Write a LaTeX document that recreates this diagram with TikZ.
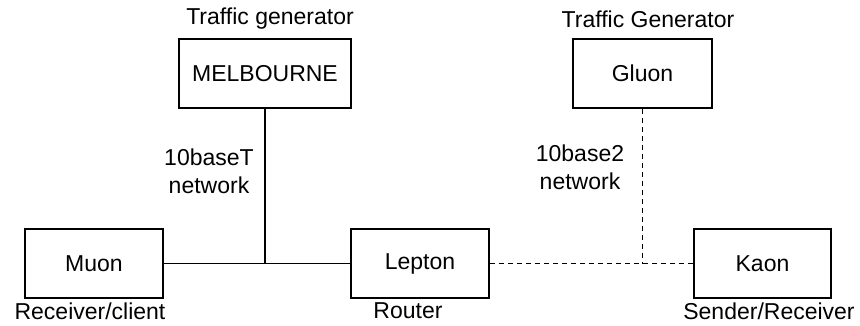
\documentclass[tikz,border=0pt]{standalone}
\usepackage{fontspec}
\setmainfont{Liberation Sans}
\begin{document}
\begin{tikzpicture}[x=1pt,y=-1pt,
  every node/.style={font=\fontsize{23}{28}\selectfont, inner sep=0pt},
  hostbox/.style={draw, line width=1.8pt, minimum width=#1, minimum height=69pt},
  hostbox/.default=138pt,
  wire/.style={line width=1.8pt},
  coax/.style={line width=1.8pt, dash pattern=on 5.5pt off 3.5pt},
  caption/.style={align=center}]
  \useasboundingbox (0,0) rectangle (860,326);

  % hosts
  \node[hostbox=172pt] (melb) at (265,73.5) {MELBOURNE};
  \node[hostbox=139pt] (gluon) at (642.5,73.5) {Gluon};
  \node[hostbox] (muon) at (94,263.5) {Muon};
  \node[hostbox] (lepton) at (420,263.5) {Lepton};
  \node[hostbox=137pt] (kaon) at (762.5,263.5) {Kaon};

  % role captions
  \node (capmelb) at (270,19) {Traffic generator};
  \node (capgluon) at (648,19) {Traffic Generator};
  \node (capmuon) at (90,311) {Receiver/client};
  \node (caplepton) at (408,311) {Router};
  \node (capkaon) at (769,311) {Sender/Receiver};

  % network captions
  \node[caption] (tnet) at (209,171) {10baseT\\network};
  \node[caption] (cnet) at (580,167) {10base2\\network};

  % 10baseT segment
  \coordinate (hubT) at (melb.south |- muon.east);
  \draw[wire] (muon.east) -- (lepton.west);
  \draw[wire] (melb.south) -- (hubT);

  % 10base2 segment
  \coordinate (hub2) at (gluon.south |- lepton.east);
  \draw[coax] (lepton.east) -- (kaon.west);
  \draw[coax] (gluon.south) -- (hub2);
\end{tikzpicture}
\end{document}
